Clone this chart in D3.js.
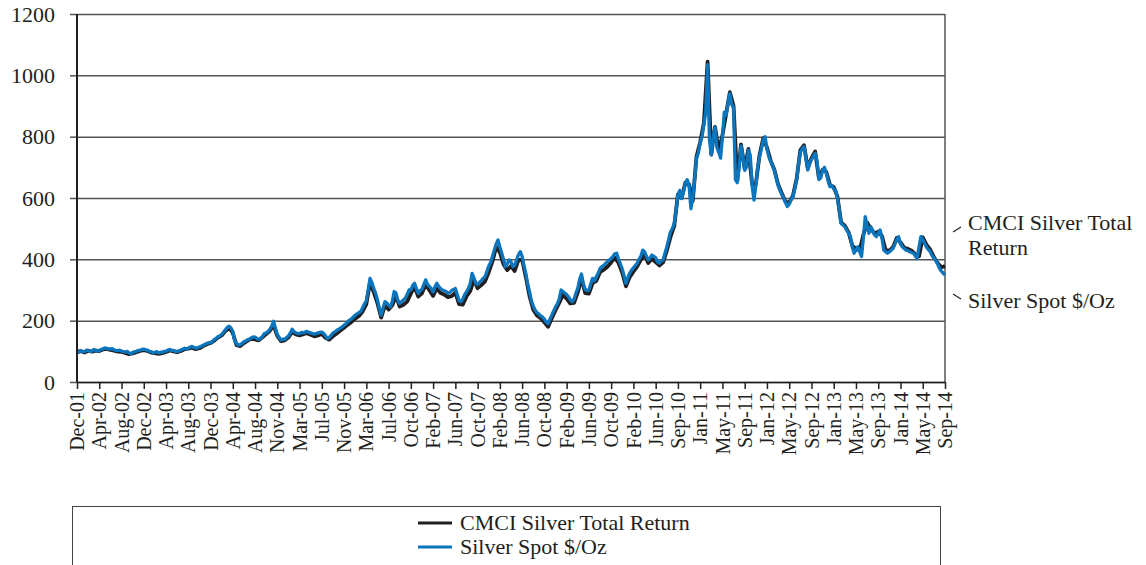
<!DOCTYPE html>
<html>
<head>
<meta charset="utf-8">
<script src="https://cdn.jsdelivr.net/npm/d3@7"></script>
<style>
  body { margin: 0; background: #fff; }
  text { font-family: "Liberation Serif", "Times New Roman", serif; fill: #231f20; }
</style>
</head>
<body>
<div id="chart"></div>
<script>
// category labels on the x axis, evenly spaced over the period
const tickLabels = ['Dec-01', 'Apr-02', 'Aug-02', 'Dec-02', 'Apr-03', 'Aug-03', 'Dec-03', 'Apr-04',
  'Aug-04', 'Nov-04', 'Mar-05', 'Jul-05', 'Nov-05', 'Mar-06', 'Jul-06', 'Oct-06', 'Feb-07', 'Jun-07',
  'Oct-07', 'Feb-08', 'Jun-08', 'Oct-08', 'Feb-09', 'Jun-09', 'Oct-09', 'Feb-10', 'Jun-10', 'Sep-10',
  'Jan-11', 'May-11', 'Sep-11', 'Jan-12', 'May-12', 'Sep-12', 'Jan-13', 'May-13', 'Sep-13', 'Jan-14',
  'May-14', 'Sep-14']
const yTicks = [0, 200, 400, 600, 800, 1000, 1200]
const seriesNames = ['CMCI Silver Total Return', 'Silver Spot $/Oz']

// CMCI Silver Total Return (indexed), 6 readings per label interval
const cmci = [
  100, 101, 96, 102, 99, 102,
  101, 106, 108, 105, 102, 99,
  98, 95, 91, 93, 97, 101,
  104, 101, 96, 94, 92, 94,
  98, 103, 100, 97, 101, 107,
  109, 112, 107, 110, 117, 123,
  127, 135, 145, 152, 166, 177,
  160, 120, 117, 127, 135, 141,
  139, 136, 146, 156, 167, 185,
  150, 133, 136, 145, 163, 155,
  152, 156, 159, 154, 149, 152,
  157, 144, 138, 149, 158, 168,
  177, 187, 196, 206, 215, 230,
  254, 325, 293, 257, 210, 250,
  236, 250, 280, 246, 252, 262,
  288, 310, 279, 289, 318, 299,
  281, 306, 290, 285, 277, 280,
  291, 254, 252, 279, 296, 334,
  306, 316, 328, 358, 393, 440,
  423, 383, 365, 378, 362, 398,
  398, 342, 280, 236, 217, 208,
  195, 180, 208, 234, 258, 285,
  272, 256, 258, 292, 338, 290,
  288, 322, 330, 358, 366, 376,
  390, 405, 388, 356, 312, 342,
  360, 376, 398, 414, 388, 402,
  391, 380, 390, 428, 473, 508,
  612, 600, 650, 645, 590, 735,
  782, 845, 1045, 742, 832, 752,
  805, 875, 945, 900, 655, 775,
  695, 760, 645, 645, 740, 795,
  765, 722, 692, 645, 615, 588,
  584, 608, 662, 756, 772, 697,
  730, 752, 665, 692, 685, 642,
  636, 605, 520, 510, 488, 445,
  434, 430, 480, 520, 500, 484,
  490, 476, 430, 428, 440, 470,
  455, 438, 434, 428, 417, 410,
  472, 448, 432, 408, 388, 374,
  378
]

// Silver spot $/oz (indexed), 12 readings per label interval
const spot = [
  100, 97, 102, 99, 98, 104, 103, 100, 100, 106, 104, 101,
  103, 106, 108, 111, 110, 108, 107, 109, 105, 103, 102, 104,
  101, 99, 98, 100, 95, 92, 96, 99, 100, 103, 104, 106,
  107, 105, 104, 100, 99, 96, 97, 99, 95, 97, 97, 100,
  101, 104, 106, 103, 103, 100, 100, 102, 104, 107, 110, 108,
  110, 114, 116, 113, 110, 112, 114, 117, 120, 123, 126, 128,
  128, 132, 138, 142, 148, 150, 155, 162, 170, 178, 182, 176,
  165, 135, 125, 120, 122, 126, 131, 134, 138, 140, 144, 147,
  146, 142, 139, 142, 148, 158, 160, 165, 172, 182, 198, 175,
  155, 145, 137, 140, 139, 145, 150, 160, 172, 165, 160, 158,
  158, 162, 160, 163, 165, 162, 160, 158, 156, 158, 160, 162,
  163, 158, 150, 142, 145, 152, 160, 163, 168, 172, 176, 180,
  185, 190, 197, 202, 206, 212, 218, 222, 226, 230, 242, 255,
  265, 300, 338, 325, 305, 290, 268, 240, 218, 240, 262, 258,
  250, 245, 262, 295, 290, 265, 256, 262, 268, 273, 285, 300,
  300, 315, 322, 305, 289, 298, 302, 318, 333, 318, 312, 305,
  294, 310, 322, 312, 305, 300, 298, 295, 289, 292, 298, 302,
  305, 285, 265, 262, 270, 285, 294, 305, 320, 354, 340, 322,
  318, 325, 330, 338, 343, 360, 378, 390, 410, 430, 450, 463,
  440, 420, 400, 376, 385, 398, 392, 376, 380, 398, 415, 425,
  410, 380, 354, 320, 294, 265, 248, 235, 226, 222, 215, 212,
  205, 195, 190, 205, 218, 232, 245, 255, 270, 300, 295, 290,
  285, 278, 268, 262, 270, 290, 305, 335, 352, 320, 302, 298,
  300, 320, 338, 330, 343, 355, 370, 376, 380, 387, 392, 398,
  403, 410, 418, 420, 400, 385, 368, 345, 322, 340, 355, 365,
  372, 380, 387, 400, 410, 430, 425, 410, 398, 405, 414, 410,
  405, 392, 388, 395, 398, 420, 440, 465, 490, 500, 517, 560,
  610, 625, 598, 620, 648, 660, 640, 565, 600, 660, 730, 746,
  780, 800, 840, 880, 1035, 790, 740, 800, 830, 765, 750, 730,
  800, 880, 870, 910, 940, 905, 895, 660, 650, 700, 770, 740,
  690, 702, 756, 740, 640, 593, 640, 700, 735, 760, 790, 800,
  760, 735, 720, 705, 690, 665, 642, 625, 612, 600, 585, 572,
  580, 595, 604, 630, 659, 710, 750, 760, 767, 730, 691, 715,
  725, 735, 746, 720, 660, 665, 690, 700, 680, 655, 637, 640,
  630, 626, 600, 560, 517, 512, 506, 495, 485, 474, 440, 420,
  430, 441, 425, 409, 470, 539, 510, 485, 506, 495, 480, 474,
  485, 496, 470, 430, 425, 420, 425, 430, 436, 450, 465, 474,
  450, 441, 435, 430, 428, 425, 422, 420, 410, 403, 440, 474,
  465, 452, 440, 432, 425, 412, 405, 398, 385, 371, 362, 355,
  349
]

const width = 1146
const height = 565
const margin = { top: 14, right: 201, bottom: 183, left: 77 }
const innerW = width - margin.left - margin.right
const innerH = height - margin.top - margin.bottom
const colors = ['#231f20', '#0b76be']

const svg = d3.select('#chart').append('svg')
  .attr('width', width)
  .attr('height', height)

const g = svg.append('g').attr('transform', `translate(${margin.left},${margin.top})`)

// x runs over the label positions; each series spreads its readings over it
const nInt = tickLabels.length - 1
const x = d3.scaleLinear().domain([0, nInt]).range([0, innerW])
const y = d3.scaleLinear().domain([0, 1200]).range([innerH, 0])

// gridlines
g.append('g')
  .call(d3.axisLeft(y).tickValues(yTicks).tickSize(-innerW).tickFormat(''))
  .call(s => s.select('.domain').remove())
  .call(s => s.selectAll('line').attr('stroke', '#555').attr('stroke-width', 1.5))

// right border
g.append('line')
  .attr('x1', innerW).attr('x2', innerW)
  .attr('y1', 0).attr('y2', innerH)
  .attr('stroke', '#555').attr('stroke-width', 1.5)

// y axis labels
g.append('g')
  .call(d3.axisLeft(y).tickValues(yTicks).tickSize(7).tickPadding(15).tickFormat(d3.format('d')))
  .call(s => s.select('.domain').remove())
  .call(s => s.selectAll('line').attr('stroke', '#555').attr('stroke-width', 1.5))
  .call(s => s.selectAll('text').attr('font-size', 22).attr('font-family', null))

// x axis
const xAxis = g.append('g')
  .attr('transform', `translate(0,${innerH})`)
  .call(d3.axisBottom(x)
    .tickValues(d3.range(tickLabels.length))
    .tickFormat(i => tickLabels[i])
    .tickSize(7)
    .tickSizeOuter(0))
xAxis.select('.domain').attr('stroke', '#231f20').attr('stroke-width', 1.5)
xAxis.selectAll('line').attr('stroke', '#231f20').attr('stroke-width', 1.5)
xAxis.selectAll('text')
  .attr('font-size', 20)
  .attr('font-family', null)
  .attr('transform', 'rotate(-90)')
  .attr('text-anchor', 'end')
  .attr('x', -10)
  .attr('y', 0)
  .attr('dy', '0.33em')

// series lines
;[cmci, spot].forEach((data, k) => {
  const step = nInt / (data.length - 1)
  const line = d3.line()
    .x((d, i) => x(i * step))
    .y(d => y(d))
  g.append('path')
    .datum(data)
    .attr('fill', 'none')
    .attr('stroke', colors[k])
    .attr('stroke-width', k === 0 ? 3.8 : 3.3)
    .attr('stroke-linejoin', 'round')
    .attr('d', line)
})

// left axis line on top
g.append('line')
  .attr('x1', 0).attr('x2', 0)
  .attr('y1', 0).attr('y2', innerH)
  .attr('stroke', '#231f20').attr('stroke-width', 2)

// end-of-line annotations
const ann = svg.append('g')
ann.append('line').attr('x1', 953).attr('y1', 232).attr('x2', 961).attr('y2', 227)
  .attr('stroke', '#231f20').attr('stroke-width', 1.2)
ann.append('line').attr('x1', 953).attr('y1', 294).attr('x2', 961).attr('y2', 299)
  .attr('stroke', '#231f20').attr('stroke-width', 1.2)
ann.append('text').attr('x', 968).attr('y', 230).attr('font-size', 22).text('CMCI Silver Total')
ann.append('text').attr('x', 968).attr('y', 255).attr('font-size', 22).text('Return')
ann.append('text').attr('x', 968).attr('y', 308).attr('font-size', 22).text(seriesNames[1])

// legend
const legend = svg.append('g')
legend.append('rect')
  .attr('x', 72.5).attr('y', 506.5)
  .attr('width', 868).attr('height', 80)
  .attr('fill', 'none').attr('stroke', '#444').attr('stroke-width', 1)
seriesNames.forEach((name, k) => {
  const ly = 523 + k * 24
  legend.append('line')
    .attr('x1', 418).attr('x2', 452)
    .attr('y1', ly).attr('y2', ly)
    .attr('stroke', colors[k]).attr('stroke-width', 3)
  legend.append('text')
    .attr('x', 460).attr('y', ly + 7)
    .attr('font-size', 22)
    .text(name)
})
</script>
</body>
</html>
